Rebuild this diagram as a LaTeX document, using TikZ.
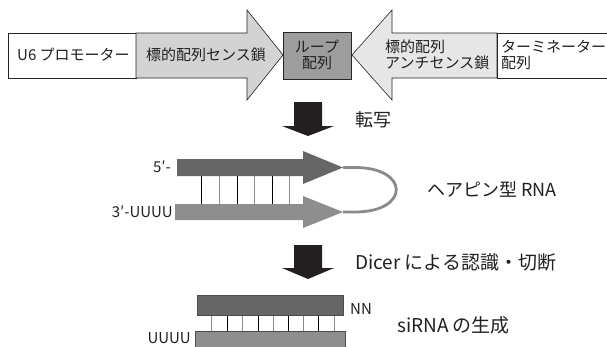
\documentclass[tikz,border=0pt]{standalone}
\usepackage{fontspec}
\setmainfont{Noto Sans CJK JP}
\begin{document}
\begin{tikzpicture}[x=1pt,y=-1pt,
  outl/.style={draw=black!85, line width=0.6pt},
  toptext/.style={text=ink, font=\fontsize{15}{16}\selectfont, inner sep=0pt},
  lbl/.style={text=ink, font=\fontsize{18}{20}\selectfont, inner sep=0pt},
  lblb/.style={text=ink, font=\fontsize{19}{21}\selectfont, inner sep=0pt},
  small/.style={text=ink, font=\fontsize{15}{17}\selectfont, inner sep=0pt},
  bigarrow/.style={fill=ink, draw=none},
  rungk/.style={draw=black, line width=0.6pt},
  rungg/.style={draw=gray!90, line width=0.6pt}]
\definecolor{ink}{HTML}{231F20}
\definecolor{senseC}{HTML}{D3D3D3}
\definecolor{antiC}{HTML}{E6E6E6}
\definecolor{loopC}{HTML}{9D9D9D}
\definecolor{darkS}{HTML}{666666}
\definecolor{lightS}{HTML}{8E8E8E}
\definecolor{curveC}{HTML}{8A8A8A}
\useasboundingbox (0,0) rectangle (607,346);
% ---- top row
\draw[outl, fill=white] (8,33) rectangle (136,78);
\draw[outl, fill=senseC] (136,33) -- (247,33) -- (247,10) -- (283,55) -- (247,100) -- (247,78) -- (136,78) -- cycle;
\draw[outl, fill=loopC] (283,32) rectangle (351,79);
\draw[outl, fill=antiC] (497,33) -- (392,33) -- (392,10) -- (352,55) -- (392,100) -- (392,78) -- (497,78) -- cycle;
\draw[outl, fill=white] (497,33) rectangle (615,78);
\node[toptext, anchor=west] (u6) at (17,55) {U6 プロモーター};
\node[toptext] (sense) at (206,55) {標的配列センス鎖};
\node[toptext, align=center] (loop) at (317,55) {ループ\\配列};
\node[toptext, align=left, anchor=west] (anti) at (385,55) {標的配列\\アンチセンス鎖};
\node[toptext, align=left, anchor=west] (term) at (501,55) {ターミネーター\\配列};
% ---- arrow 1
\fill[bigarrow] (294,102) -- (322,102) -- (322,126) -- (334,126) -- (308,136) -- (282,126) -- (294,126) -- cycle;
\node[lbl] (tr) at (373,120) {転写};
% ---- hairpin
\foreach \x/\s in {201/rungk,219/rungg,237/rungk,254/rungg,272/rungk,289/rungg}
  \draw[\s] (\x,176) -- (\x,204);
\fill[darkS] (177,159) -- (303,159) -- (303,151) -- (343,167.5) -- (303,184) -- (303,176) -- (177,176) -- cycle;
\fill[lightS] (175,204) -- (303,204) -- (303,196) -- (343,212) -- (303,228) -- (303,220) -- (175,220) -- cycle;
\coordinate (t1) at (343,167.5);
\coordinate (t2) at (343,212);
\draw[curveC, line width=2.8pt] (t1) -- (355,167.5) .. controls (410,167.5) and (410,212) .. (355,212) -- (t2);
\node[small, anchor=east] (five) at (171,167) {5′-};
\node[small, anchor=east] (three) at (173,212) {3′-UUUU};
\node[lbl] (hp) at (492,189) {ヘアピン型 RNA};
% ---- arrow 2
\fill[bigarrow] (294,245) -- (322,245) -- (322,268) -- (334,268) -- (308,279) -- (282,268) -- (294,268) -- cycle;
\node[lblb, anchor=west] (dicer) at (355,262) {Dicer による認識・切断};
% ---- siRNA
\foreach \x/\s in {211/rungg,227/rungk,242/rungg,258/rungk,273/rungg,288/rungk,303/rungg,318/rungk,334/rungg}
  \draw[\s] (\x,315) -- (\x,331);
\draw[outl, fill=darkS, draw=black!70] (197,295) rectangle (343,315);
\draw[outl, fill=lightS, draw=black!70] (195,331) rectangle (345,352);
\node[small, anchor=west] (nn) at (350,309) {NN};
\node[lblb, anchor=west] (si) at (397,325) {siRNA の生成};
\node[small, anchor=east] (uu) at (191,338.5) {UUUU};
\end{tikzpicture}
\end{document}
